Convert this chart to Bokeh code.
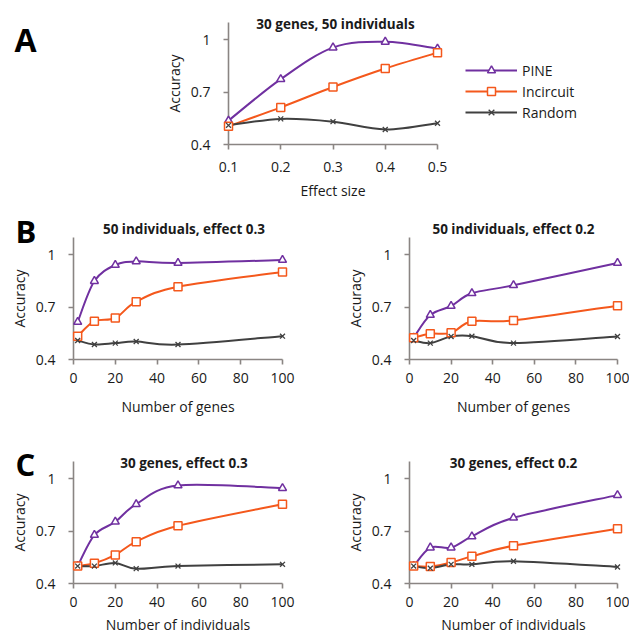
from bokeh.plotting import figure
from bokeh.layouts import column, row
from bokeh.models import Legend, LegendItem, FixedTicker, CustomJSTickFormatter
from bokeh.core.properties import value
from bokeh.embed import file_html
from bokeh.resources import INLINE

# ---------------- data ----------------
series_names = ["PINE", "Incircuit", "Random"]

effect_sizes = [0.1, 0.2, 0.3, 0.4, 0.5]
a_pine = [0.537, 0.775, 0.956, 0.989, 0.950]
a_inc = [0.505, 0.613, 0.730, 0.836, 0.927]
a_rand = [0.510, 0.547, 0.531, 0.486, 0.522]

n_genes = [2, 10, 20, 30, 50, 100]
b1_pine = [0.615, 0.850, 0.942, 0.963, 0.954, 0.971]
b1_inc = [0.534, 0.620, 0.638, 0.732, 0.818, 0.902]
b1_rand = [0.509, 0.486, 0.494, 0.503, 0.486, 0.534]

b2_pine = [0.525, 0.655, 0.707, 0.780, 0.826, 0.954]
b2_inc = [0.525, 0.548, 0.553, 0.619, 0.624, 0.709]
b2_rand = [0.509, 0.494, 0.532, 0.534, 0.494, 0.532]

n_individuals = [2, 10, 20, 30, 50, 100]
c1_pine = [0.500, 0.678, 0.754, 0.855, 0.962, 0.947]
c1_inc = [0.500, 0.516, 0.564, 0.640, 0.731, 0.855]
c1_rand = [0.500, 0.500, 0.518, 0.485, 0.500, 0.510]

c2_pine = [0.500, 0.606, 0.606, 0.670, 0.777, 0.907]
c2_inc = [0.500, 0.497, 0.520, 0.556, 0.617, 0.714]
c2_rand = [0.500, 0.488, 0.510, 0.510, 0.528, 0.495]

y_ticks = [0.4, 0.7, 1.0]
bc_ticks = [0, 20, 40, 60, 80, 100]

titles = ["30 genes, 50 individuals", "50 individuals, effect 0.3", "50 individuals, effect 0.2",
          "30 genes, effect 0.3", "30 genes, effect 0.2"]
panel_letters = ["A", "B", "C"]

# ---------------- style ----------------
FONT = "Open Sans"
COLORS = ["#7030A0", "#F4581C", "#404040"]
AXIS_COLOR = "#8A8583"
TEXT_COLOR = "#1A1A1A"
Y_RANGE = (0.4, 1.1)


def smooth(xs, ys):
    """Bezier control points (Catmull-Rom style, like spreadsheet smoothed lines)."""
    px = [xs[0]] + list(xs) + [xs[-1]]
    py = [ys[0]] + list(ys) + [ys[-1]]
    out = dict(x0=[], y0=[], x1=[], y1=[], cx0=[], cy0=[], cx1=[], cy1=[])
    for i in range(len(xs) - 1):
        a, b, c, d = i, i + 1, i + 2, i + 3
        out["x0"].append(px[b]); out["y0"].append(py[b])
        out["x1"].append(px[c]); out["y1"].append(py[c])
        out["cx0"].append(px[b] + (px[c] - px[a]) / 6.0)
        out["cy0"].append(py[b] + (py[c] - py[a]) / 6.0)
        out["cx1"].append(px[c] - (px[d] - px[b]) / 6.0)
        out["cy1"].append(py[c] - (py[d] - py[b]) / 6.0)
    return out


def make_fig(x_range, xs, series, xticks, xlabel, title, frame_w,
             bl, br, bt, bb, x_std, xl_std, yl_std, title_dx, title_dy):
    p = figure(frame_width=frame_w, frame_height=122, x_range=x_range, y_range=Y_RANGE,
               min_border_left=bl, min_border_right=br, min_border_top=bt, min_border_bottom=bb,
               output_backend="svg", toolbar_location=None)
    p.outline_line_color = None
    p.xgrid.visible = False
    p.ygrid.visible = False
    p.background_fill_color = "white"
    p.border_fill_color = "white"
    for ax in (p.xaxis[0], p.yaxis[0]):
        ax.axis_line_color = AXIS_COLOR
        ax.axis_line_width = 1.6
        ax.major_tick_line_color = AXIS_COLOR
        ax.major_tick_line_width = 1.6
        ax.major_tick_out = 5
        ax.major_tick_in = 0
        ax.minor_tick_line_color = None
        ax.major_label_text_font = FONT
        ax.major_label_text_font_size = "14px"
        ax.major_label_text_color = TEXT_COLOR
        ax.axis_label_text_font = FONT
        ax.axis_label_text_font_size = "14px"
        ax.axis_label_text_font_style = "normal"
        ax.axis_label_text_color = TEXT_COLOR
    p.xaxis.ticker = FixedTicker(ticks=xticks)
    p.xaxis.formatter = CustomJSTickFormatter(code="return String(Math.round(tick*10)/10)")
    p.xaxis.major_label_standoff = x_std
    p.xaxis.axis_label = xlabel
    p.xaxis.axis_label_standoff = xl_std
    p.yaxis.ticker = FixedTicker(ticks=y_ticks)
    p.yaxis.formatter = CustomJSTickFormatter(code="return String(Math.round(tick*10)/10)")
    p.yaxis.major_label_standoff = 13
    p.yaxis.axis_label = "Accuracy"
    p.yaxis.axis_label_standoff = yl_std

    renderers = []
    for k, ys in enumerate(series):
        col = COLORS[k]
        bz = p.bezier(source=smooth(xs, ys), x0="x0", y0="y0", x1="x1", y1="y1",
                      cx0="cx0", cy0="cy0", cx1="cx1", cy1="cy1",
                      line_color=col, line_width=2)
        if k == 0:
            sc = p.scatter(xs, ys, marker="triangle", size=8, line_color=col, line_width=1.5,
                           fill_color="white", level="overlay")
        elif k == 1:
            sc = p.scatter(xs, ys, marker="square", size=8, line_color=col, line_width=1.5,
                           fill_color="white", level="overlay")
        else:
            sc = p.scatter(xs, ys, marker="x", size=7, line_color=col, line_width=1.3,
                           level="overlay")
        renderers.append((bz, sc))

    # chart title, anchored to the top-centre of the plot frame
    p.text(x=[(x_range[0] + x_range[1]) / 2.0], y=[Y_RANGE[1]], text=[title],
           x_offset=title_dx, y_offset=title_dy,
           text_font=value(FONT), text_font_size="13.5px", text_font_style="bold",
           text_color=TEXT_COLOR, text_align="center", text_baseline="middle", level="overlay")
    return p, renderers


def add_letter(p, x_range, letter, dx, dy, size):
    p.text(x=[x_range[0]], y=[Y_RANGE[1]], text=[letter], x_offset=dx, y_offset=dy,
           text_font=value(FONT), text_font_size=size, text_font_style="bold",
           text_color="black", text_align="left", text_baseline="alphabetic", level="overlay")


# Panel A
xrA = (0.1, 0.5)
pA, rA = make_fig(xrA, effect_sizes, [a_pine, a_inc, a_rand], effect_sizes, "Effect size",
                  titles[0], 209, 228, 192, 22, 56, 12, 6, 4, 2.5, 1.8)
legend = Legend(items=[LegendItem(label=series_names[k], renderers=list(rA[k])) for k in range(3)],
                location=(28, 22), border_line_color=None, background_fill_alpha=0,
                padding=0, margin=0, spacing=1, glyph_width=52, glyph_height=20, label_height=20,
                label_standoff=5, label_text_font=FONT, label_text_font_size="14px",
                label_text_color=TEXT_COLOR)
pA.add_layout(legend, "right")
add_letter(pA, xrA, panel_letters[0], -214, 16.5, "32px")

# Panel B
xrB = (0, 100)
pB1, _ = make_fig(xrB, n_genes, [b1_pine, b1_inc, b1_rand], bc_ticks, "Number of genes",
                  titles[1], 209, 73, 56, 35, 63, 8, 11, 4, 6, -8.3)
add_letter(pB1, xrB, panel_letters[1], -58, -6.7, "31px")
pB2, _ = make_fig(xrB, n_genes, [b2_pine, b2_inc, b2_rand], bc_ticks, "Number of genes",
                  titles[2], 208, 71, 12, 35, 63, 8, 11, 4, 0, -8.3)

# Panel C
xrC = (0, 100)
pC1, _ = make_fig(xrC, n_individuals, [c1_pine, c1_inc, c1_rand], bc_ticks, "Number of individuals",
                  titles[3], 209, 73, 56, 39, 55, 8, 5, 4, 6, 1.3)
add_letter(pC1, xrC, panel_letters[2], -58, 2.7, "31px")
pC2, _ = make_fig(xrC, n_individuals, [c2_pine, c2_inc, c2_rand], bc_ticks, "Number of individuals",
                  titles[4], 208, 71, 12, 39, 55, 8, 5, 4, 0, 1.3)

layout = column(pA, row(pB1, pB2), row(pC1, pC2))

open("out.html", "w").write(file_html(layout, INLINE))
